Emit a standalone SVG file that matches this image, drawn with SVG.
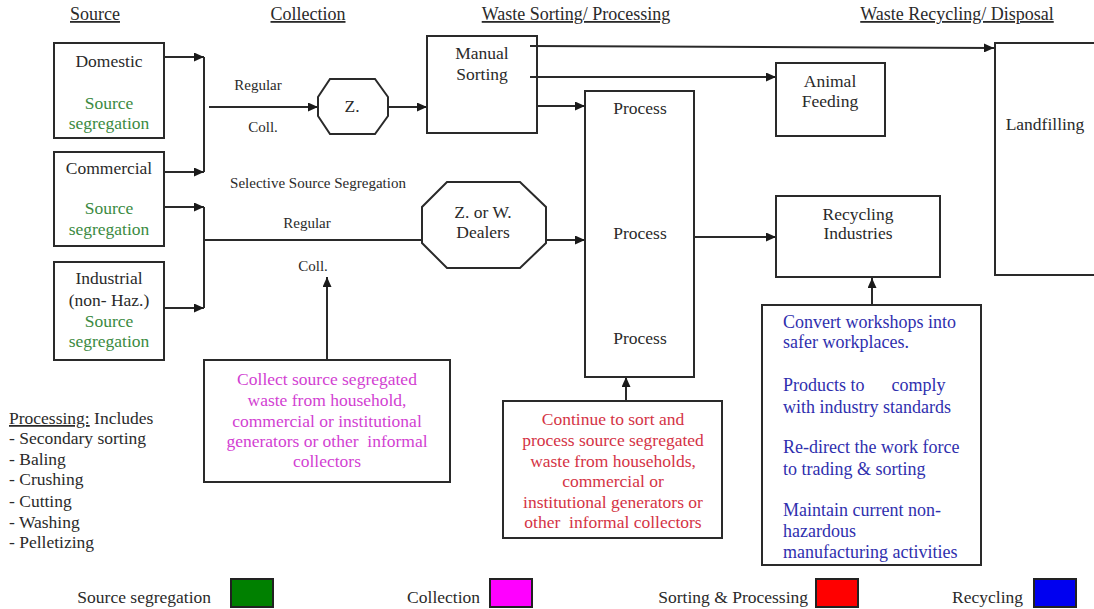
<svg xmlns="http://www.w3.org/2000/svg" width="1094" height="609" viewBox="0 0 1094 609">
<style>
text{font-family:"Liberation Serif","Times New Roman",serif;font-size:17.5px;fill:#2a2a2a}
.c{text-anchor:middle}
.h{font-size:18px;text-decoration:underline}
.s{font-size:15px}
.g{fill:#3b8a3f}
.m{fill:#d23fd2}
.r{fill:#d43345}
.b{fill:#2f2fae;font-size:18px}
.box{fill:#fff;stroke:#2a2a2a;stroke-width:2}
.ln{fill:none;stroke:#2a2a2a;stroke-width:2}
.a{marker-end:url(#ah)}
.sw{stroke:#222;stroke-width:2}
</style>
<defs>
<marker id="ah" markerUnits="userSpaceOnUse" markerWidth="11" markerHeight="9" refX="10" refY="4.5" orient="auto">
<path d="M0,0 L10,4.5 L0,9 z" fill="#1a1a1a"/>
</marker>
</defs>
<rect width="1094" height="609" fill="#fff"/>

<g id="headers">
<text class="h c" x="95" y="20">Source</text>
<text class="h c" x="308" y="20">Collection</text>
<text class="h c" x="576" y="20">Waste Sorting/ Processing</text>
<text class="h c" x="957" y="20">Waste Recycling/ Disposal</text>
</g>

<g id="connectors">
<path class="ln a" d="M164,57 H204"/>
<path class="ln a" d="M164,172 H204"/>
<path class="ln" d="M204,57 V172"/>
<path class="ln a" d="M209,107 H318"/>
<path class="ln a" d="M164,207 H204"/>
<path class="ln a" d="M164,308 H204"/>
<path class="ln" d="M204,207 V308"/>
<path class="ln" d="M204,240 H422"/>
<path class="ln a" d="M388,107 H427"/>
<path class="ln a" d="M530,46 L994,48"/>
<path class="ln a" d="M530,77 H776"/>
<path class="ln a" d="M537,106 H585"/>
<path class="ln a" d="M546,240 H585"/>
<path class="ln a" d="M694,237 H776"/>
<path class="ln a" d="M327,360 V277"/>
<path class="ln a" d="M626,401 V377"/>
<path class="ln a" d="M872,305 V278"/>
</g>

<g id="labels">
<text class="s c" x="258" y="90">Regular</text>
<text class="s c" x="263" y="132">Coll.</text>
<text class="s c" x="318" y="188">Selective Source Segregation</text>
<text class="s c" x="307" y="228">Regular</text>
<text class="s c" x="313" y="271">Coll.</text>
</g>

<g id="domestic">
<rect class="box" x="54" y="43" width="110" height="95"/>
<text class="c" x="109" y="67">Domestic</text>
<text class="c g" x="109" y="109">Source</text>
<text class="c g" x="109" y="129">segregation</text>
</g>
<g id="commercial">
<rect class="box" x="54" y="152" width="110" height="94"/>
<text class="c" x="109" y="174">Commercial</text>
<text class="c g" x="109" y="214">Source</text>
<text class="c g" x="109" y="235">segregation</text>
</g>
<g id="industrial">
<rect class="box" x="54" y="262" width="110" height="98"/>
<text class="c" x="109" y="284">Industrial</text>
<text class="c" x="109" y="306">(non- Haz.)</text>
<text class="c g" x="109" y="327">Source</text>
<text class="c g" x="109" y="347">segregation</text>
</g>

<g id="z">
<polygon class="box" points="330,79 375,79 388,97 388,116 375,134 330,134 318,116 318,97"/>
<text class="c" x="352" y="112">Z.</text>
</g>
<g id="dealers">
<polygon class="box" points="447,182 520,182 546,207 546,243 520,268 447,268 422,243 422,207"/>
<text class="c" x="483" y="218">Z. or W.</text>
<text class="c" x="483" y="238">Dealers</text>
</g>

<g id="manual">
<rect class="box" x="427" y="36" width="110" height="97"/>
<text class="c" x="482" y="59">Manual</text>
<text class="c" x="482" y="80">Sorting</text>
</g>
<path class="ln" d="M530,46 H537 M530,77 H537"/>

<g id="process">
<rect class="box" x="585" y="91" width="109" height="286"/>
<text class="c" x="640" y="114">Process</text>
<text class="c" x="640" y="239">Process</text>
<text class="c" x="640" y="344">Process</text>
</g>

<g id="animal">
<rect class="box" x="776" y="63" width="109" height="73"/>
<text class="c" x="830" y="87">Animal</text>
<text class="c" x="830" y="107">Feeding</text>
</g>

<g id="recycling">
<rect class="box" x="776" y="196" width="164" height="81"/>
<text class="c" x="858" y="220">Recycling</text>
<text class="c" x="858" y="239">Industries</text>
</g>

<g id="landfilling">
<rect class="box" x="995" y="43" width="110" height="232"/>
<text class="c" x="1045" y="130">Landfilling</text>
</g>

<g id="collect-note">
<rect class="box" x="204" y="360" width="246" height="122"/>
<text class="c m" x="327" y="385">Collect source segregated</text>
<text class="c m" x="327" y="406">waste from household,</text>
<text class="c m" x="327" y="427">commercial or institutional</text>
<text class="c m" x="327" y="447" xml:space="preserve">generators or other  informal</text>
<text class="c m" x="327" y="467">collectors</text>
</g>

<g id="sort-note">
<rect class="box" x="503" y="401" width="219" height="137"/>
<text class="c r" x="613" y="425">Continue to sort and</text>
<text class="c r" x="613" y="446">process source segregated</text>
<text class="c r" x="613" y="467">waste from households,</text>
<text class="c r" x="613" y="487">commercial or</text>
<text class="c r" x="613" y="508">institutional generators or</text>
<text class="c r" x="613" y="528" xml:space="preserve">other  informal collectors</text>
</g>

<g id="recycle-note">
<rect class="box" x="762" y="305" width="219" height="260"/>
<text class="b" x="783" y="328">Convert workshops into</text>
<text class="b" x="783" y="348">safer workplaces.</text>
<text class="b" x="783" y="391" xml:space="preserve">Products to      comply</text>
<text class="b" x="783" y="413">with industry standards</text>
<text class="b" x="783" y="453">Re-direct the work force</text>
<text class="b" x="783" y="475">to trading &amp; sorting</text>
<text class="b" x="783" y="516">Maintain current non-</text>
<text class="b" x="783" y="537">hazardous</text>
<text class="b" x="783" y="558">manufacturing activities</text>
</g>

<g id="processing-list">
<text x="9" y="424"><tspan text-decoration="underline">Processing:</tspan> Includes</text>
<text x="9" y="444">- Secondary sorting</text>
<text x="9" y="465">- Baling</text>
<text x="9" y="485">- Crushing</text>
<text x="9" y="507">- Cutting</text>
<text x="9" y="528">- Washing</text>
<text x="9" y="548">- Pelletizing</text>
</g>

<g id="legend">
<text x="211" y="603" style="text-anchor:end">Source segregation</text>
<rect class="sw" x="231" y="579" width="42" height="28" fill="#008000"/>
<text x="480" y="603" style="text-anchor:end">Collection</text>
<rect class="sw" x="490" y="579" width="42" height="28" fill="#ff00ff"/>
<text x="808" y="603" style="text-anchor:end">Sorting &amp; Processing</text>
<rect class="sw" x="816" y="579" width="42" height="28" fill="#ff0000"/>
<text x="1023" y="603" style="text-anchor:end">Recycling</text>
<rect class="sw" x="1034" y="579" width="42" height="28" fill="#0000f0"/>
</g>
</svg>
